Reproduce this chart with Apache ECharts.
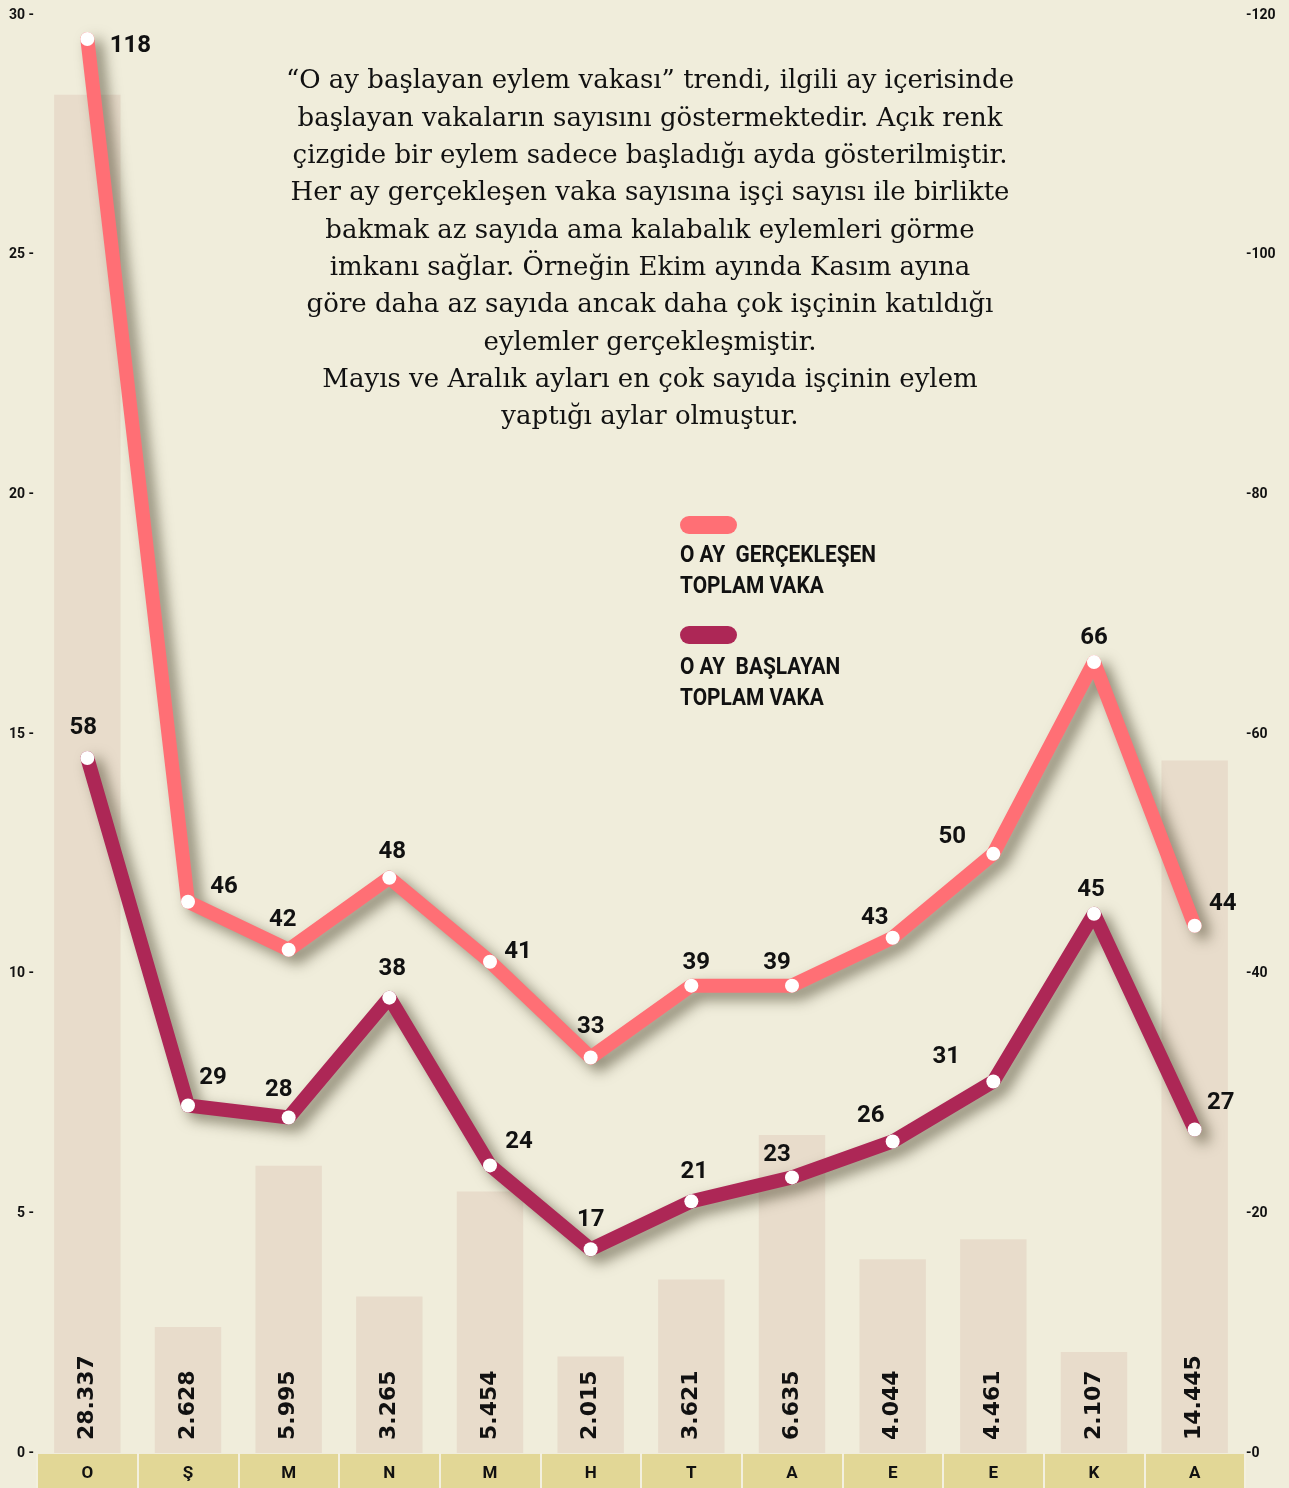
<!DOCTYPE html>
<html>
<head>
<meta charset="utf-8">
<script src="https://cdn.jsdelivr.net/npm/echarts@6.0.0/dist/echarts.min.js"></script>
<style>
  html, body { margin: 0; padding: 0; background: #f0eddb; }
  #chart { width: 1289px; height: 1488px; }
</style>
</head>
<body>
<div id="chart"></div>
<script>
// veriler
const months = ["O", "Ş", "M", "N", "M", "H", "T", "A", "E", "E", "K", "A"];
const workers = [28.337, 2.628, 5.995, 3.265, 5.454, 2.015, 3.621, 6.635, 4.044, 4.461, 2.107, 14.445]; // bin işçi
const totalCases = [118, 46, 42, 48, 41, 33, 39, 39, 43, 50, 66, 44]; // o ay gerçekleşen
const startedCases = [58, 29, 28, 38, 24, 17, 21, 23, 26, 31, 45, 27]; // o ay başlayan
const leftTicks = [0, 5, 10, 15, 20, 25, 30];
const rightTicks = [0, 20, 40, 60, 80, 100, 120];

// etiket kaydırmaları (sadece yerleşim)
const totalLabelOffsets = [[43, 7], [36, -15], [-6, -30], [3, -26], [28, -10], [0, -31],
  [5, -23], [-15, -23], [-18, -20], [-41, -17], [0, -24], [28, -22]];
const startedLabelOffsets = [[-4, -30], [25, -27], [-10, -27], [3, -29], [29, -23], [0, -29],
  [3, -29], [-15, -22], [-22, -25], [-47, -25], [-3, -24], [26, -26]];

const note = [
  "“O ay başlayan eylem vakası” trendi, ilgili ay içerisinde",
  "başlayan vakaların sayısını göstermektedir. Açık renk",
  "çizgide bir eylem sadece başladığı ayda gösterilmiştir.",
  "Her ay gerçekleşen vaka sayısına işçi sayısı ile birlikte",
  "bakmak az sayıda ama kalabalık eylemleri görme",
  "imkanı sağlar. Örneğin Ekim ayında Kasım ayına",
  "göre daha az sayıda ancak daha çok işçinin katıldığı",
  "eylemler gerçekleşmiştir.",
  "Mayıs ve Aralık ayları en çok sayıda işçinin eylem",
  "yaptığı aylar olmuştur."
];

const LIGHT = "#ff6f75";
const DARK = "#ad2756";
const SANS = "Roboto, 'Noto Sans', sans-serif";

function pointData(values, offsets) {
  return values.map((v, i) => ({ value: v, label: { offset: offsets[i] } }));
}

function lineSeries(name, values, offsets, color, z) {
  return {
    name: name,
    type: "line",
    yAxisIndex: 1,
    z: z,
    data: pointData(values, offsets),
    symbol: "circle",
    symbolSize: 14,
    showAllSymbol: true,
    itemStyle: { color: "#ffffff" },
    lineStyle: {
      color: color,
      width: 14,
      cap: "round",
      join: "round",
      shadowColor: "rgba(55, 50, 25, 0.55)",
      shadowBlur: 14,
      shadowOffsetX: 8,
      shadowOffsetY: 7
    },
    label: {
      show: true,
      position: "inside",
      fontFamily: SANS,
      fontWeight: "bold",
      fontSize: 24,
      color: "#111111",
      textBorderWidth: 0
    },
    emphasis: { disabled: true }
  };
}

function legendText(x, y, text) {
  return {
    type: "text", z: 10, x: x, y: y, scaleX: 0.87,
    style: { text: text, fontFamily: SANS, fontWeight: "bold", fontSize: 24, lineHeight: 31, fill: "#111111" }
  };
}

const chart = echarts.init(document.getElementById("chart"));
const option = {
  backgroundColor: "#f0eddb",
  animation: false,
  grid: { left: 37, right: 44, top: 15, bottom: 35 },
  xAxis: {
    type: "category",
    data: months,
    z: 5,
    axisLine: { show: false },
    axisTick: {
      show: true,
      length: 35,
      lineStyle: { color: "#f3f0df", width: 2 }
    },
    axisLabel: {
      margin: 12,
      fontFamily: SANS,
      fontWeight: "bold",
      fontSize: 17,
      color: "#111111"
    }
  },
  yAxis: [
    {
      type: "value",
      min: leftTicks[0],
      max: leftTicks[leftTicks.length - 1],
      interval: leftTicks[1] - leftTicks[0],
      axisLine: { show: false },
      axisTick: { show: false },
      splitLine: { show: false },
      axisLabel: {
        margin: 3,
        fontFamily: SANS,
        fontWeight: "bold",
        fontSize: 14,
        color: "#111111",
        formatter: "{value} -"
      }
    },
    {
      type: "value",
      min: rightTicks[0],
      max: rightTicks[rightTicks.length - 1],
      interval: rightTicks[1] - rightTicks[0],
      axisLine: { show: false },
      axisTick: { show: false },
      splitLine: { show: false },
      axisLabel: {
        margin: 1,
        fontFamily: SANS,
        fontWeight: "bold",
        fontSize: 14,
        color: "#111111",
        formatter: "-{value}"
      }
    }
  ],
  series: [
    {
      name: "İşçi sayısı",
      type: "bar",
      yAxisIndex: 0,
      data: workers,
      barWidth: "66%",
      itemStyle: { color: "#e8dccb" },
      label: {
        show: true,
        position: "insideBottom",
        rotate: 90,
        align: "left",
        verticalAlign: "middle",
        distance: 13,
        fontFamily: "'DejaVu Sans', sans-serif",
        fontWeight: "bold",
        fontSize: 22,
        color: "#111111",
        formatter: (p) => p.value.toFixed(3)
      },
      emphasis: { disabled: true }
    },
    lineSeries("O ay başlayan toplam vaka", startedCases, startedLabelOffsets, DARK, 3),
    lineSeries("O ay gerçekleşen toplam vaka", totalCases, totalLabelOffsets, LIGHT, 4)
  ],
  graphic: [
    // x ekseni şeridi
    { type: "rect", z: 1, shape: { x: 37, y: 1454, width: 1208, height: 34 }, style: { fill: "#e2d796" } },
    {
      type: "text",
      z: 10,
      x: 650,
      y: 63,
      style: {
        text: note.join("\n"),
        fontFamily: "'DejaVu Serif', serif",
        fontSize: 26,
        lineHeight: 37.3,
        align: "center",
        fill: "#111111"
      }
    },
    // lejant
    { type: "rect", z: 10, shape: { x: 680, y: 516, width: 57, height: 18, r: 9 }, style: { fill: LIGHT } },
    legendText(680, 540, "O AY  GERÇEKLEŞEN\nTOPLAM VAKA"),
    { type: "rect", z: 10, shape: { x: 680, y: 626, width: 57, height: 18, r: 9 }, style: { fill: DARK } },
    legendText(680, 652, "O AY  BAŞLAYAN\nTOPLAM VAKA")
  ]
};
chart.setOption(option);
</script>
</body>
</html>
